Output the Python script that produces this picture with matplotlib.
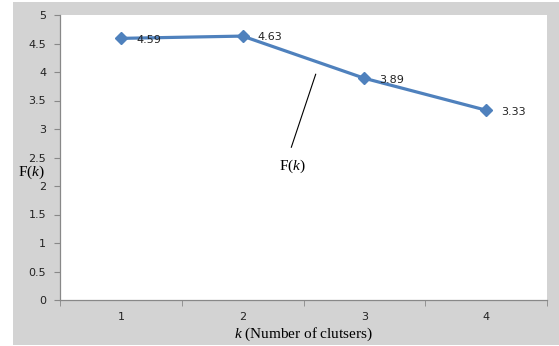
import matplotlib.pyplot as plt
from matplotlib.patches import Rectangle

plt.rcParams['mathtext.fontset'] = 'custom'
plt.rcParams['mathtext.rm'] = 'Liberation Serif'
plt.rcParams['mathtext.it'] = 'Liberation Serif:italic'

# data
k_values = [1, 2, 3, 4]
f_values = [4.59, 4.63, 3.89, 3.33]
k_labels = ['1', '2', '3', '4']

fig = plt.figure(figsize=(5.59, 3.46), dpi=100)
fig.patch.set_facecolor('white')

# gray chart-area background (Excel style)
fig.patches.append(Rectangle((13 / 559, 1 - 345 / 346), 1 - 13 / 559, (345 - 2) / 346,
                             transform=fig.transFigure, facecolor='#d3d3d3',
                             edgecolor='none', zorder=-10))

ax = fig.add_axes([60 / 559, 1 - 300 / 346, (547 - 60) / 559, (300 - 15) / 346])
ax.set_facecolor('white')

ax.plot(k_values, f_values, color='#4f81bd', linewidth=2.3, marker='D',
        markersize=6, markerfacecolor='#4f81bd', markeredgecolor='#4f81bd')

for x, y in zip(k_values, f_values):
    ax.annotate(f'{y:.2f}', (x, y), xytext=(11, -1), textcoords='offset points',
                ha='left', va='center', fontsize=8, color='#222222',
                family='DejaVu Sans')

ax.set_xlim(0.5, 4.5)
ax.set_ylim(0, 5)
ax.set_yticks([0, 0.5, 1, 1.5, 2, 2.5, 3, 3.5, 4, 4.5, 5])
ax.set_yticklabels(['0', '0.5', '1', '1.5', '2', '2.5', '3', '3.5', '4', '4.5', '5'])
ax.set_xticks(k_values)
ax.set_xticklabels(k_labels)
ax.set_xticks([0.5, 1.5, 2.5, 3.5, 4.5], minor=True)
ax.tick_params(axis='x', which='major', length=0, pad=9, labelsize=8, labelcolor='#222222')
ax.tick_params(axis='x', which='minor', length=4, color='#888888', direction='out')
ax.tick_params(axis='y', length=4, color='#888888', labelsize=8, labelcolor='#222222', pad=6)

for side in ['top', 'right']:
    ax.spines[side].set_visible(False)
for side in ['left', 'bottom']:
    ax.spines[side].set_color('#888888')
    ax.spines[side].set_linewidth(0.9)

# callout
ax.plot([2.6, 2.4], [3.96, 2.68], color='black', linewidth=0.8)
ax.text(2.41, 2.35, r'F($\mathit{k}$)', ha='center', va='center', fontsize=11,
        family='Liberation Serif')

fig.text(31 / 559, 1 - 172 / 346, r'F($\mathit{k}$)', ha='center', va='center',
         fontsize=11, family='Liberation Serif')
fig.text(304 / 559, 1 - 334 / 346, r'$\mathit{k}$ (Number of clutsers)', ha='center',
         va='center', fontsize=11, family='Liberation Serif')

fig.savefig('out.png', dpi=100)
